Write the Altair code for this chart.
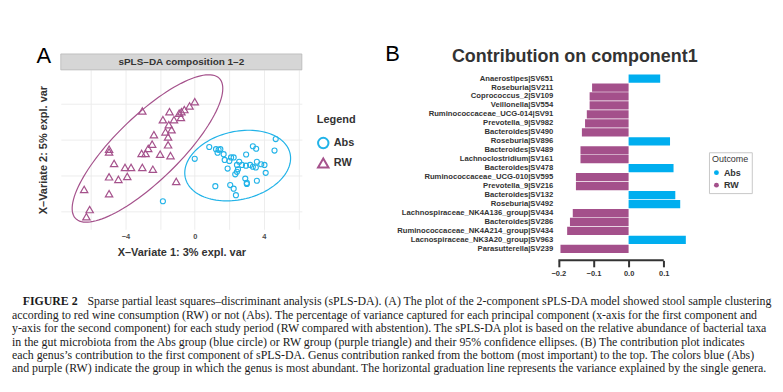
import altair as alt
import numpy as np
import pandas as pd

SANS = "Liberation Sans"
SERIF = "Liberation Serif"
BLUE_PT = "#22b3e8"
PURPLE_PT = "#a5528c"
BLUE_BAR = "#00aeef"
PURPLE_BAR = "#a4508b"

# ---------------- Panel A data (sPLS-DA scores) ----------------
abs_x = [0.0, 0.84, 1.23, 1.38, 1.48, 1.32, 1.67, 1.73, 2.0, 2.1, 2.25, 1.9, 2.57, 2.97,
         2.44, 2.73, 2.96, 3.2, 2.5, 2.44, 2.34, 3.36, 3.59, 3.53, 3.84, 4.03, 4.1, 3.36,
         3.55, 4.61, 4.68, 2.92, 3.01, 3.01, 3.59, 2.05, 2.25, 1.19, 2.38, -1.84]
abs_y = [-0.15, 1.5, 1.2, 1.1, 1.2, 0.7, 0.5, -0.3, -0.45, 0.05, 0.05, -1.5, -0.55, 0.45,
         -1.0, -1.0, -1.1, -1.0, -1.6, -1.95, -2.3, -1.25, -0.55, -1.35, -0.9, -1.0, -2.1, 1.6,
         1.25, 1.0, 2.6, -2.9, -3.5, -3.65, -3.2, -3.8, -4.3, -3.95, -5.2, -6.05]
rw_x = [0.0, -0.3, -0.6, -0.77, -0.9, -0.8, -3.03, -1.46, -1.84, -1.2, -1.5, -1.69, -1.34,
        -1.54, -2.36, -1.54, -2.46, -2.69, -2.84, -3.07, -2.0, -1.4, -4.95, -4.95, -4.66,
        -4.03, -3.68, -3.03, -2.42, -3.9, -4.41, -4.95, -1.07, -6.39, -4.95, -6.07, -6.26]
rw_y = [7.8, 7.2, 6.7, 6.4, 6.2, 5.6, 6.5, 6.4, 5.3, 5.3, 4.6, 3.6, 3.9, 2.9, 3.2, 1.8,
        1.9, 1.3, 0.6, 0.6, 0.5, 0.3, 1.2, 0.8, -0.8, -1.35, -1.35, -1.35, -1.6, -2.6,
        -3.0, -2.65, -3.3, -4.4, -5.0, -7.2, -8.2]
groups = ["Abs", "RW"]

# ---------------- Panel B data (loadings) ----------------
contrib_names = [
    "Anaerostipes|SV651", "Roseburia|SV211", "Coprococcus_2|SV109", "Veillonella|SV554",
    "Ruminococcaceae_UCG-014|SV91", "Prevotella_9|SV982", "Bacteroides|SV490",
    "Roseburia|SV896", "Bacteroides|SV489", "Lachnoclostridium|SV161", "Bacteroides|SV478",
    "Ruminococcaceae_UCG-010|SV595", "Prevotella_9|SV216", "Bacteroides|SV132",
    "Roseburia|SV492", "Lachnospiraceae_NK4A136_group|SV434", "Bacteroides|SV286",
    "Ruminococcaceae_NK4A214_group|SV434", "Lacnospiraceae_NK3A20_group|SV963",
    "Parasutterella|SV239"]
contrib_values = [0.090, -0.104, -0.111, -0.111, -0.119, -0.124, -0.133, 0.118, -0.137,
                  -0.137, 0.128, -0.150, -0.150, 0.133, 0.147, -0.159, -0.167, -0.175,
                  0.163, -0.194]
contrib_groups = ["Abs" if v > 0 else "RW" for v in contrib_values]
contrib_ticks = [-0.2, -0.1, 0.0, 0.1]

# ---------------- Caption ----------------
caption_label = "FIGURE 2"
caption_lines = [
    "Sparse partial least squares–discriminant analysis (sPLS-DA). (A) The plot of the 2-component sPLS-DA model showed stool sample clustering",
    "according to red wine consumption (RW) or not (Abs). The percentage of variance captured for each principal component (x-axis for the first component and",
    "y-axis for the second component) for each study period (RW compared with abstention). The sPLS-DA plot is based on the relative abundance of bacterial taxa",
    "in the gut microbiota from the Abs group (blue circle) or RW group (purple triangle) and their 95% confidence ellipses. (B) The contribution plot indicates",
    "each genus’s contribution to the first component of sPLS-DA. Genus contribution ranked from the bottom (most important) to the top. The colors blue (Abs)",
    "and purple (RW) indicate the group in which the genus is most abundant. The horizontal graduation line represents the variance explained by the single genera.",
]


def conf_ellipse(xs, ys, chi2=5.991, n=120):
    xs = np.asarray(xs, float)
    ys = np.asarray(ys, float)
    cov = np.cov(xs, ys)
    vals, vecs = np.linalg.eigh(cov)
    t = np.linspace(0, 2 * np.pi, n)
    circ = np.stack([np.cos(t), np.sin(t)])
    p = vecs @ (np.sqrt(vals * chi2)[:, None] * circ)
    return pd.DataFrame({"x": xs.mean() + p[0], "y": ys.mean() + p[1], "i": np.arange(n)})


# ================= Panel A =================
WA, HA = 242, 160
pts = pd.DataFrame({
    "x": abs_x + rw_x,
    "y": abs_y + rw_y,
    "group": ["Abs"] * len(abs_x) + ["RW"] * len(rw_x),
})
xscale = alt.Scale(domain=[-7.74, 6.19], nice=False, zero=False)
yscale = alt.Scale(domain=[-9.94, 12.22], nice=False, zero=False)
xaxis = alt.Axis(values=[-6, -4, -2, 0, 2, 4, 6],
                 labelExpr="datum.value % 4 == 0 ? datum.label : ''",
                 title="X–Variate 1: 3% expl. var", grid=True, gridColor="#ebebeb",
                 gridWidth=0.9, domain=False, ticks=False, labelFontSize=7.5,
                 labelFontWeight="bold", labelColor="#4d4d4d", labelPadding=3,
                 titleFontSize=11, titleFontWeight="bold", titleColor="#333333",
                 titlePadding=7)
yaxis = alt.Axis(values=[-7.5, -5, -2.5, 0, 2.5, 5, 7.5, 10],
                 labelExpr="datum.value % 5 == 0 ? datum.label : ''",
                 title="X–Variate 2: 5% expl. var", grid=True, gridColor="#ebebeb",
                 gridWidth=0.9, domain=False, ticks=False, labelFontSize=7.5,
                 labelFontWeight="bold", labelColor="#4d4d4d", labelPadding=3,
                 titleFontSize=11, titleFontWeight="bold", titleColor="#333333",
                 titlePadding=9)
legA = alt.Legend(title="Legend", orient="none", legendX=257, legendY=44,
                  titleFontSize=11, titleFontWeight="bold", titleColor="#333333",
                  labelFontSize=11, labelFontWeight="bold", labelColor="#333333",
                  symbolSize=110, symbolStrokeWidth=2, titlePadding=12, rowPadding=1,
                  labelOffset=4, padding=0)
color_enc = alt.Color("group:N", scale=alt.Scale(domain=groups, range=[BLUE_PT, PURPLE_PT]),
                      legend=legA)
shape_enc = alt.Shape("group:N", scale=alt.Scale(domain=groups, range=["circle", "triangle-up"]),
                      legend=legA)

abs_layer = alt.Chart(pts).transform_filter("datum.group == 'Abs'").mark_point(
    filled=False, size=26, strokeWidth=1.1, opacity=1).encode(
    x=alt.X("x:Q", scale=xscale, axis=xaxis),
    y=alt.Y("y:Q", scale=yscale, axis=yaxis),
    color=color_enc, shape=shape_enc)
rw_layer = alt.Chart(pts).transform_filter("datum.group == 'RW'").mark_point(
    filled=False, size=55, strokeWidth=1.2, opacity=1).encode(
    x=alt.X("x:Q", scale=xscale, axis=xaxis),
    y=alt.Y("y:Q", scale=yscale, axis=yaxis),
    color=color_enc, shape=shape_enc)

ell_abs = alt.Chart(conf_ellipse(abs_x, abs_y)).mark_line(color=BLUE_PT, strokeWidth=1.2).encode(
    x="x:Q", y="y:Q", order="i:Q")
ell_rw = alt.Chart(conf_ellipse(rw_x, rw_y)).mark_line(color=PURPLE_PT, strokeWidth=1.2).encode(
    x="x:Q", y="y:Q", order="i:Q")

one = pd.DataFrame({"k": [0]})
strip = alt.Chart(one).mark_rect(fill="#d6d6d6", stroke="#b8b8b8", strokeWidth=0.8).encode(
    x=alt.value(0), x2=alt.value(WA), y=alt.value(-16), y2=alt.value(0))
strip_txt = alt.Chart(one).mark_text(font=SANS, fontSize=10, fontWeight="bold", color="#333333",
                                     baseline="middle").encode(
    x=alt.value(WA / 2), y=alt.value(-8), text=alt.value("sPLS–DA composition 1–2"))
lab_a = alt.Chart(one).mark_text(font=SANS, fontSize=22, align="left", baseline="alphabetic",
                                 color="black").encode(
    x=alt.value(-24.3), y=alt.value(-7.3), text=alt.value("A"))

panelA = alt.layer(strip, strip_txt, lab_a, ell_rw, ell_abs, rw_layer, abs_layer).properties(
    width=WA, height=HA)

# ================= Panel B =================
WB, HB = 141, 184.2
bars = pd.DataFrame({"name": contrib_names, "value": contrib_values, "outcome": contrib_groups})
legB = alt.Legend(title="Outcome", orient="none", legendX=154.7, legendY=82.7,
                  symbolType="circle", symbolSize=24, titleFontSize=9, titleFontWeight="normal",
                  titleColor="#333333", labelFontSize=9, labelFontWeight="bold",
                  labelColor="#333333", padding=3, strokeColor="#c8c8c8", fillColor="white",
                  rowPadding=2.5, titlePadding=4, labelOffset=3)
bar_layer = alt.Chart(bars).mark_bar().encode(
    y=alt.Y("name:N", sort=contrib_names,
            scale=alt.Scale(paddingInner=0.08, paddingOuter=0.2733, align=0.927),
            axis=alt.Axis(title=None, domain=False, ticks=False, labelFontSize=7.7,
                          labelFontWeight="bold", labelColor="#333333", labelPadding=2,
                          labelLimit=400)),
    x=alt.X("value:Q", scale=alt.Scale(domain=[-0.21, 0.19], nice=False, zero=False),
            axis=alt.Axis(values=contrib_ticks, format=".1f", grid=False, domain=False,
                          tickSize=6.5, tickWidth=2, tickColor="#333333", offset=7,
                          labelFontSize=7.5, labelFontWeight="bold", labelColor="#333333",
                          labelPadding=3, title=None)),
    color=alt.Color("outcome:N", scale=alt.Scale(domain=groups, range=[BLUE_BAR, PURPLE_BAR]),
                    legend=legB))
axis_rule = alt.Chart(one).mark_rule(color="#333333", strokeWidth=2).encode(
    x=alt.datum(contrib_ticks[0]), x2=alt.datum(contrib_ticks[-1]), y=alt.value(HB + 7))
title_b = alt.Chart(one).mark_text(font=SANS, fontSize=18, fontWeight="bold", color="#333333",
                                   align="center", baseline="alphabetic").encode(
    x=alt.value(20), y=alt.value(-8.3), text=alt.value("Contribution on component1"))
lab_b = alt.Chart(one).mark_text(font=SANS, fontSize=22, align="left", baseline="alphabetic",
                                 color="black").encode(
    x=alt.value(-170.3), y=alt.value(-9), text=alt.value("B"))

panelB = alt.layer(bar_layer, axis_rule, title_b, lab_b).properties(width=WB, height=HB)

# ================= Caption =================
CAP_FS = 11.9
cap_df = pd.DataFrame({"line": list(range(len(caption_lines))), "text": caption_lines})
fig_df = pd.DataFrame({"line": [0], "text": [caption_label]})
ycap = alt.Y("line:O", axis=None, scale=alt.Scale(domain=list(range(len(caption_lines))), padding=0.5))
cap_rest = alt.Chart(cap_df).transform_filter("datum.line > 0").mark_text(
    font=SERIF, fontSize=CAP_FS, align="left", baseline="middle", color="#1a1a1a").encode(
    y=ycap, x=alt.value(-49), text="text:N")
cap_first = alt.Chart(cap_df).transform_filter("datum.line == 0").mark_text(
    font=SERIF, fontSize=CAP_FS, align="left", baseline="middle", color="#1a1a1a").encode(
    y=ycap, x=alt.value(26.7), text="text:N")
cap_fig = alt.Chart(fig_df).mark_text(
    font=SERIF, fontSize=CAP_FS, fontWeight="bold", align="left", baseline="middle",
    color="#1a1a1a").encode(y=ycap, x=alt.value(-38.3), text="text:N")
caption = alt.layer(cap_rest, cap_first, cap_fig).properties(width=WA, height=81)

chart = alt.concat(panelA, panelB, caption, columns=2,
                   spacing={"row": 40.5, "column": 254}, bounds="flush").resolve_scale(
    color="independent", shape="independent").properties(
    padding={"left": 4, "top": 34.4, "right": 2, "bottom": 2}, background="white"
).configure_view(stroke=None).configure_axis(labelFont=SANS, titleFont=SANS).configure_legend(
    labelFont=SANS, titleFont=SANS)

chart.save("out.html", embed_options={"renderer": "svg", "actions": False})
